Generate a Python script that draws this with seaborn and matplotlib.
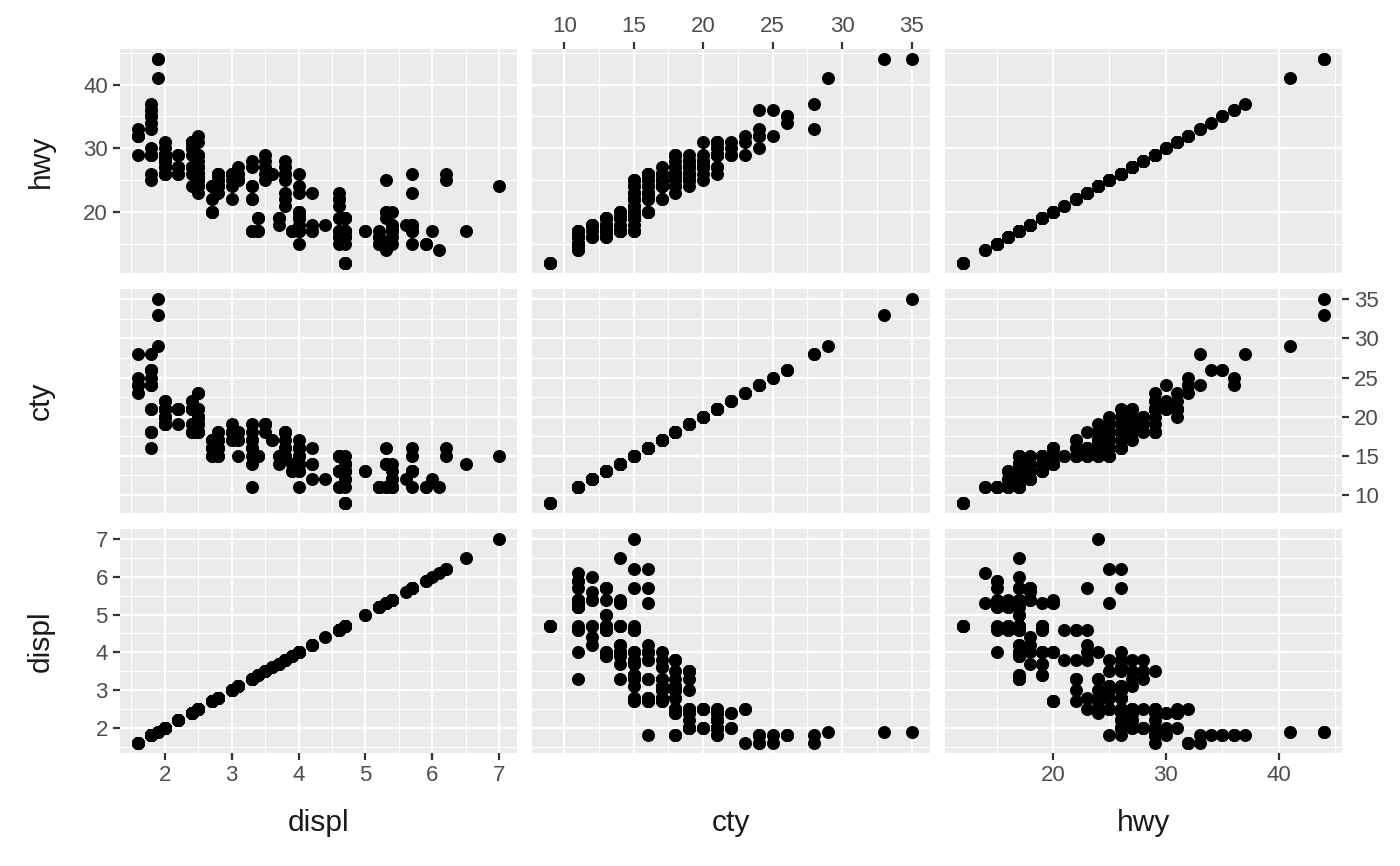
import pandas as pd
import matplotlib
matplotlib.use('Agg')
import matplotlib.pyplot as plt
import seaborn as sns
from matplotlib.ticker import MultipleLocator

# mpg data: engine displacement, city and highway mileage (234 cars)
displ = [1.8, 1.8, 2.0, 2.0, 2.8, 2.8, 3.1, 1.8, 1.8, 2.0,
         2.0, 2.8, 2.8, 3.1, 3.1, 2.8, 3.1, 4.2, 5.3, 5.3,
         5.3, 5.7, 6.0, 5.7, 5.7, 6.2, 6.2, 7.0, 5.3, 5.3,
         5.7, 6.5, 2.4, 2.4, 3.1, 3.5, 3.6, 2.4, 3.0, 3.3,
         3.3, 3.3, 3.3, 3.3, 3.8, 3.8, 3.8, 4.0, 3.7, 3.7,
         3.9, 3.9, 4.7, 4.7, 4.7, 5.2, 5.2, 3.9, 4.7, 4.7,
         4.7, 5.2, 5.7, 5.9, 4.7, 4.7, 4.7, 4.7, 4.7, 4.7,
         5.2, 5.2, 5.7, 5.9, 4.6, 5.4, 5.4, 4.0, 4.0, 4.0,
         4.0, 4.6, 5.0, 4.2, 4.2, 4.6, 4.6, 4.6, 5.4, 5.4,
         3.8, 3.8, 4.0, 4.0, 4.6, 4.6, 4.6, 4.6, 5.4, 1.6,
         1.6, 1.6, 1.6, 1.6, 1.8, 1.8, 1.8, 2.0, 2.4, 2.4,
         2.4, 2.4, 2.5, 2.5, 3.3, 2.0, 2.0, 2.0, 2.0, 2.7,
         2.7, 2.7, 3.0, 3.7, 4.0, 4.7, 4.7, 4.7, 5.7, 6.1,
         4.0, 4.2, 4.4, 4.6, 5.4, 5.4, 5.4, 4.0, 4.0, 4.6,
         5.0, 2.4, 2.4, 2.5, 2.5, 3.5, 3.5, 3.0, 3.0, 3.5,
         3.3, 3.3, 4.0, 5.6, 3.1, 3.8, 3.8, 3.8, 5.3, 2.5,
         2.5, 2.5, 2.5, 2.5, 2.5, 2.2, 2.2, 2.5, 2.5, 2.5,
         2.5, 2.5, 2.5, 2.7, 2.7, 3.4, 3.4, 4.0, 4.7, 2.2,
         2.2, 2.4, 2.4, 3.0, 3.0, 3.5, 2.2, 2.2, 2.4, 2.4,
         3.0, 3.0, 3.3, 1.8, 1.8, 1.8, 1.8, 1.8, 4.7, 5.7,
         2.7, 2.7, 2.7, 3.4, 3.4, 4.0, 4.0, 2.0, 2.0, 2.0,
         2.0, 2.8, 1.9, 2.0, 2.0, 2.0, 2.0, 2.5, 2.5, 2.8,
         2.8, 1.9, 1.9, 2.0, 2.0, 2.5, 2.5, 1.8, 1.8, 2.0,
         2.0, 2.8, 2.8, 3.6]

cty = [18, 21, 20, 21, 16, 18, 18, 18, 16, 20,
       19, 15, 17, 17, 15, 15, 17, 16, 14, 11,
       14, 13, 12, 16, 15, 16, 15, 15, 14, 11,
       11, 14, 19, 22, 18, 18, 17, 18, 17, 16,
       16, 17, 17, 11, 15, 15, 16, 16, 15, 14,
       13, 14, 14, 14, 9, 11, 11, 13, 13, 9,
       13, 11, 13, 11, 12, 9, 13, 13, 12, 9,
       11, 11, 13, 11, 11, 11, 12, 14, 15, 14,
       13, 13, 13, 14, 14, 13, 13, 13, 11, 13,
       18, 18, 17, 16, 15, 15, 15, 15, 14, 28,
       24, 25, 23, 24, 26, 25, 24, 21, 18, 18,
       21, 21, 18, 18, 19, 19, 19, 20, 20, 17,
       16, 17, 17, 15, 15, 14, 9, 14, 13, 11,
       11, 12, 12, 11, 11, 11, 12, 14, 13, 13,
       13, 21, 19, 23, 23, 19, 19, 18, 19, 19,
       14, 15, 14, 12, 18, 16, 17, 18, 16, 18,
       18, 20, 19, 20, 18, 21, 19, 19, 19, 20,
       20, 19, 20, 15, 16, 15, 15, 16, 15, 21,
       21, 21, 21, 18, 18, 19, 21, 21, 21, 22,
       18, 18, 18, 24, 24, 26, 28, 26, 11, 13,
       15, 16, 17, 15, 15, 15, 16, 21, 19, 21,
       22, 17, 33, 21, 19, 22, 21, 21, 21, 16,
       17, 35, 29, 21, 19, 20, 20, 21, 18, 19,
       21, 16, 18, 17]

hwy = [29, 29, 31, 30, 26, 26, 27, 26, 25, 28,
       27, 25, 25, 25, 25, 24, 25, 23, 20, 15,
       20, 17, 17, 26, 23, 26, 25, 24, 19, 14,
       15, 17, 27, 30, 26, 29, 26, 24, 24, 22,
       22, 24, 24, 17, 22, 21, 23, 23, 19, 18,
       17, 17, 19, 19, 12, 17, 15, 17, 17, 12,
       17, 16, 18, 15, 16, 12, 17, 17, 16, 12,
       15, 16, 17, 15, 17, 17, 18, 17, 19, 17,
       19, 19, 17, 17, 17, 16, 16, 17, 15, 17,
       26, 25, 26, 24, 21, 22, 23, 22, 20, 33,
       32, 32, 29, 32, 34, 36, 36, 29, 26, 27,
       30, 31, 26, 26, 28, 26, 29, 28, 27, 24,
       24, 24, 22, 19, 20, 17, 12, 19, 18, 14,
       15, 18, 18, 15, 17, 16, 18, 17, 19, 19,
       17, 29, 27, 31, 32, 27, 26, 26, 25, 25,
       17, 17, 20, 18, 26, 26, 27, 28, 25, 25,
       24, 27, 25, 26, 23, 26, 26, 26, 26, 27,
       25, 24, 27, 20, 20, 19, 17, 20, 19, 29,
       27, 31, 31, 26, 26, 28, 27, 29, 31, 31,
       26, 26, 27, 30, 33, 35, 37, 35, 15, 18,
       20, 20, 22, 17, 19, 18, 20, 29, 26, 29,
       29, 24, 44, 29, 26, 29, 29, 29, 29, 23,
       24, 44, 41, 29, 26, 28, 29, 29, 29, 28,
       29, 26, 26, 26]

col_vars = ['displ', 'cty', 'hwy']
row_vars = ['hwy', 'cty', 'displ']

df = pd.DataFrame({'displ': displ, 'cty': cty, 'hwy': hwy})

# ggplot-like look
sns.set_theme(style='darkgrid', rc={
    'axes.facecolor': '#EBEBEB',
    'grid.color': 'white',
    'grid.linewidth': 0.8,
})
plt.rcParams['font.family'] = ['Liberation Sans', 'DejaVu Sans']

g = sns.PairGrid(df, x_vars=col_vars, y_vars=row_vars, despine=False, height=1.5)
g.map(sns.scatterplot, color='black', s=22, linewidth=0)

g.figure.set_size_inches(7, 4.33)
g.figure.subplots_adjust(left=120/1400, right=1342/1400, top=1-49/866,
                         bottom=1-753/866, wspace=0.0378, hspace=0.0714)

limits = {'displ': (1.33, 7.27), 'cty': (7.7, 36.3), 'hwy': (10.4, 45.6)}
major = {'displ': 1, 'cty': 5, 'hwy': 10}
minor = {'displ': 0.5, 'cty': 2.5, 'hwy': 5}

for i, rv in enumerate(row_vars):
    for j, cv in enumerate(col_vars):
        ax = g.axes[i, j]
        ax.set_xlim(limits[cv])
        ax.set_ylim(limits[rv])
        ax.xaxis.set_major_locator(MultipleLocator(major[cv]))
        ax.xaxis.set_minor_locator(MultipleLocator(minor[cv]))
        ax.yaxis.set_major_locator(MultipleLocator(major[rv]))
        ax.yaxis.set_minor_locator(MultipleLocator(minor[rv]))
        ax.set_axisbelow(True)
        ax.grid(True, which='major', color='white', lw=0.8)
        ax.grid(True, which='minor', color='white', lw=0.4)
        for s in ax.spines.values():
            s.set_visible(False)
        ax.tick_params(which='both', bottom=False, top=False, left=False, right=False,
                       labelbottom=False, labeltop=False, labelleft=False, labelright=False)
        ax.tick_params(which='major', length=2.4, width=0.8, color='#333333',
                       labelsize=8, labelcolor='#4D4D4D', pad=2)
        ax.tick_params(which='minor', length=0)
        ax.set_xlabel('')
        ax.set_ylabel('')

# alternate axis sides like a ggplot pairs matrix
g.axes[2, 0].tick_params(which='major', bottom=True, labelbottom=True)
g.axes[0, 1].tick_params(which='major', top=True, labeltop=True)
g.axes[2, 2].tick_params(which='major', bottom=True, labelbottom=True)
g.axes[0, 0].tick_params(which='major', left=True, labelleft=True)
g.axes[1, 2].tick_params(which='major', right=True, labelright=True)
g.axes[2, 0].tick_params(which='major', left=True, labelleft=True)

for j, cv in enumerate(col_vars):
    ax = g.axes[2, j]
    ax.set_xlabel(cv, fontsize=10.8, color='#1A1A1A')
    ax.xaxis.set_label_coords(0.5, -0.25)
for i, rv in enumerate(row_vars):
    ax = g.axes[i, 0]
    ax.set_ylabel(rv, fontsize=10.8, color='#1A1A1A')
    ax.yaxis.set_label_coords(-0.163, 0.5)

g.figure.savefig('out.png', dpi=200, facecolor='white')
